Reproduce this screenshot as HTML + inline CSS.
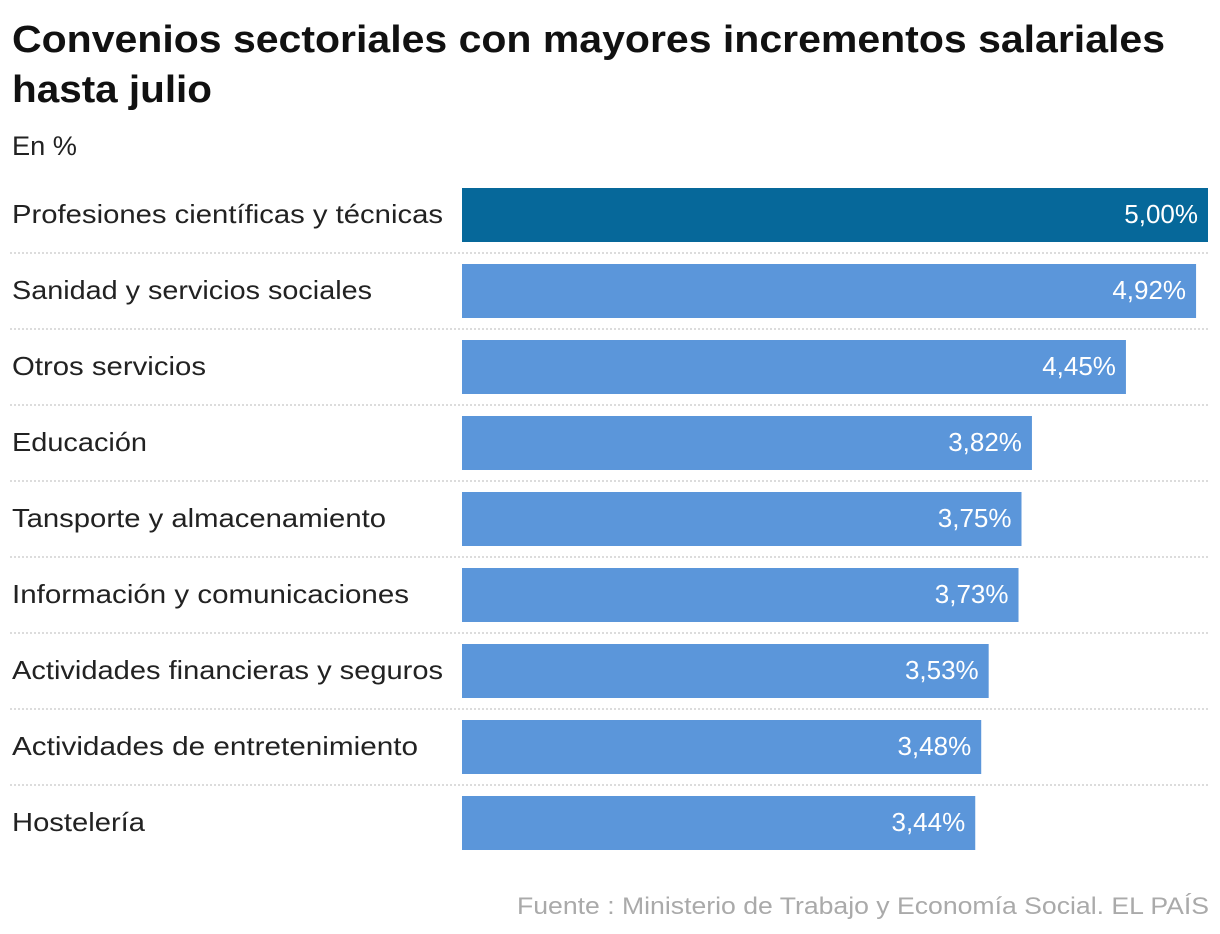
<!DOCTYPE html>
<html><head><meta charset="utf-8"><style>
html,body{margin:0;padding:0;background:#fff;}
svg{display:block;font-family:"Liberation Sans",sans-serif;}
</style></head><body>
<svg id="chart" width="1220" height="934" viewBox="0 0 1220 934">
<text x="12" y="52" font-size="38" font-weight="bold" fill="#111" textLength="1153" lengthAdjust="spacingAndGlyphs">Convenios sectoriales con mayores incrementos salariales</text>
<text x="12" y="102" font-size="38" font-weight="bold" fill="#111" textLength="200" lengthAdjust="spacingAndGlyphs">hasta julio</text>
<text x="12" y="155" font-size="27" fill="#222" textLength="65" lengthAdjust="spacingAndGlyphs">En %</text>
<g id="rows"></g>
<text x="1209" y="914" font-size="24" fill="#aaa" text-anchor="end" textLength="692" lengthAdjust="spacingAndGlyphs">Fuente : Ministerio de Trabajo y Economía Social. EL PAÍS</text>
</svg>
<script>
const categories = ["Profesiones científicas y técnicas","Sanidad y servicios sociales","Otros servicios","Educación","Tansporte y almacenamiento","Información y comunicaciones","Actividades financieras y seguros","Actividades de entretenimiento","Hostelería"];
const values = [5.00,4.92,4.45,3.82,3.75,3.73,3.53,3.48,3.44];
const valueLabels = ["5,00%","4,92%","4,45%","3,82%","3,75%","3,73%","3,53%","3,48%","3,44%"];
const labelWidths = [431,360,194,135,374,397,431,406,133];

const NS = "http://www.w3.org/2000/svg";
const x0 = 462, xMax = 5.0, plotW = 746;
const xScale = v => x0 + v / xMax * plotW;
const rowTop = i => 188 + i * 76;
const g = document.getElementById("rows");
function mk(tag, attrs){const e=document.createElementNS(NS,tag);for(const k in attrs)e.setAttribute(k,attrs[k]);return e;}
categories.forEach((c,i)=>{
  const y = rowTop(i);
  const lab = mk("text",{x:12,y:y+35,"font-size":26,fill:"#222",textLength:labelWidths[i],lengthAdjust:"spacingAndGlyphs"});
  
  
  lab.textContent = c; g.appendChild(lab);
  const bar = mk("rect",{x:x0,y:y,width:xScale(values[i])-x0,height:54,fill:i===0?"#06689a":"#5b96da"});
  
  
  g.appendChild(bar);
  const vl = mk("text",{x:xScale(values[i])-10,y:y+35,"font-size":26,fill:"#fff","text-anchor":"end"});
  
  
  vl.textContent = valueLabels[i]; g.appendChild(vl);
  if(i<categories.length-1){
    const ln = mk("line",{x1:10,x2:1210,y1:y+65,y2:y+65,stroke:"#c8c8c8","stroke-width":1.2,"stroke-dasharray":"2 2"});
    
    
    g.appendChild(ln);
  }
});
</script>
</body></html>
